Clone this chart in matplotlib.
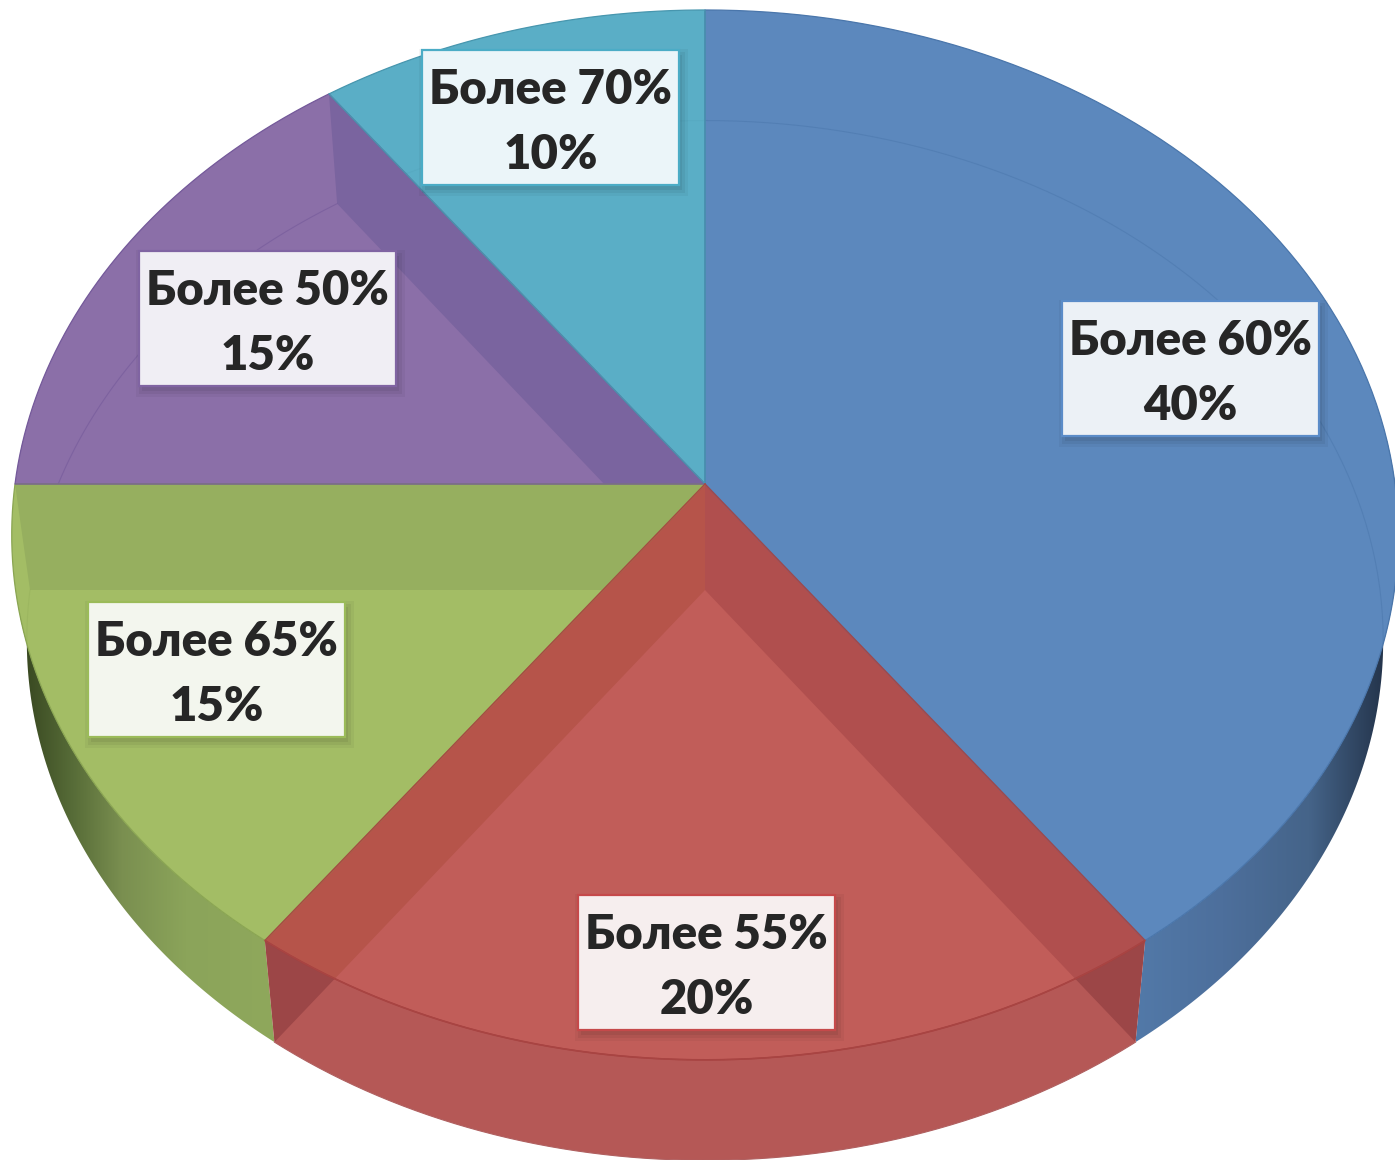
import matplotlib
matplotlib.use('Agg')
import matplotlib.pyplot as plt
import numpy as np
from matplotlib.patches import Polygon, Rectangle
from matplotlib.colors import LinearSegmentedColormap

# chart data
labels = ['Более 60%', 'Более 55%', 'Более 65%', 'Более 50%', 'Более 70%']
shares = [40, 20, 15, 15, 10]

# styles
face_colors = ['#5c88bd', '#c15d59', '#a3bd65', '#8b6fa8', '#5aaec6']
band_colors = ['#5c88bd', '#b04f4e', '#96af5f', '#7a649f', '#5aaec6']
line_colors = ['#4a76ab', '#a94543', '#8aa552', '#74599a', '#4796ae']
box_edges = ['#5b8cc8', '#c5494a', '#9bbb59', '#8064a2', '#4bacc6']
box_faces = ['#ecf1f6', '#f6eeee', '#f3f6ee', '#f0eef4', '#ebf5f9']
box_pos = [(1062, 301), (578, 895), (88, 602), (139, 251), (422, 50)]
BOX_W, BOX_H = 257, 135

# the disc is seen in perspective, so top and bottom rims are projected circles
TILT = 0.097
TOP = dict(cx=705, cy=484, a=690, b=520)
BOTTOM = dict(cx=705, cy=590, a=675, b=515)

plt.rcParams['font.family'] = ['Lato', 'Noto Sans', 'DejaVu Sans']


def project(disc, deg, r=1.0):
    t = np.radians(deg)
    u, v = r * np.sin(t), r * np.cos(t)
    d = 1 + TILT * v
    return np.column_stack([disc['cx'] + disc['a'] * u / d, disc['cy'] - disc['b'] * v / d])


def arc(disc, a1, a2, n=200):
    return project(disc, np.linspace(a1, a2, n))


def wedge(disc, a1, a2):
    return np.vstack([[disc['cx'], disc['cy']], arc(disc, a1, a2)])


def wall(a1, a2):
    return np.vstack([arc(TOP, a1, a2), arc(BOTTOM, a2, a1)])


def cut(deg):
    return np.vstack([[TOP['cx'], TOP['cy']], project(TOP, deg),
                      project(BOTTOM, deg), [BOTTOM['cx'], BOTTOM['cy']]])


def clipper(pts):
    return Polygon(pts, closed=True, transform=ax.transData)


def gradient_wall(pts, x0, x1, colors):
    cmap = LinearSegmentedColormap.from_list('w', colors)
    im = ax.imshow(np.linspace(0, 1, 256).reshape(1, -1), cmap=cmap, aspect='auto',
                   extent=(x0, x1, 1160, 0), zorder=1)
    im.set_clip_path(clipper(pts))


fig = plt.figure(figsize=(13.95, 11.6), dpi=100)
ax = fig.add_axes([0, 0, 1, 1])

edges = np.concatenate([[0], np.cumsum(shares) * 3.6])

# outer walls
gradient_wall(wall(85, edges[1]), 1136, 1396,
              ['#5279a8', '#4d6f9c', '#456489', '#1f2d42'])
gradient_wall(wall(edges[2], 275), 275, 20,
              [(0, '#8fa85c'), (0.35, '#8ba45a'), (0.6, '#7a8f50'), (0.8, '#566b37'), (1, '#36451f')])

red_wall = wall(edges[1], edges[2])
ax.add_patch(Polygon(red_wall, closed=True, fc='#b55856', ec='none', zorder=2))
for deg in edges[1:3]:
    ax.add_patch(Polygon(cut(deg), closed=True, fc='#9c4647', ec='none', zorder=3,
                         clip_path=clipper(red_wall)))
ax.plot(*wall(edges[1], edges[2])[200:].T, color='#b06060', lw=0.8, zorder=3)

# top faces, with the cut walls showing through them
for i in range(len(shares)):
    a1, a2 = edges[i], edges[i + 1]
    top = wedge(TOP, a1, a2)
    ax.add_patch(Polygon(top, closed=True, fc=face_colors[i], ec='none', zorder=4))
    for deg in (a1, a2):
        color = '#b6544a' if i == 1 and deg == a2 else band_colors[i]
        ax.add_patch(Polygon(cut(deg), closed=True, fc=color, ec='none', zorder=5,
                             clip_path=clipper(top)))

# faint rim of the bottom disc seen through the top, only inside its own slice
rim_alpha = [0.5, 0, 0.25, 0.6, 0.15]
for i in [0, 2, 3, 4]:
    a1, a2 = edges[i], edges[i + 1]
    rim, = ax.plot(*arc(BOTTOM, a1, a2).T, color=line_colors[i], lw=0.8,
                   alpha=rim_alpha[i], zorder=6)
    rim.set_clip_path(clipper(wedge(TOP, a1, a2)))
ax.plot(*arc(TOP, edges[1], edges[2]).T, color='#a5403f', lw=1.2, zorder=6)

# red last so that its edges sit on top of its neighbours
for i in [0, 2, 3, 4, 1]:
    ax.plot(*np.vstack([wedge(TOP, edges[i], edges[i + 1]), [TOP['cx'], TOP['cy']]]).T,
            color=line_colors[i], lw=0.9, zorder=7)

# labels
for i, (x, y) in enumerate(box_pos):
    for grow, alpha in [(6, 0.04), (3, 0.05), (0, 0.06)]:
        ax.add_patch(Rectangle((x + 3 - grow, y + 5 - grow), BOX_W + 2 * grow, BOX_H + 2 * grow,
                               fc='black', ec='none', alpha=alpha, zorder=8))
    ax.add_patch(Rectangle((x, y), BOX_W, BOX_H, fc=box_faces[i], ec=box_edges[i],
                           lw=1.6, zorder=9))
    ax.text(x + BOX_W / 2, y + 40, labels[i], ha='center', va='center', fontsize=34,
            fontweight='heavy', color='#262626', zorder=10)
    ax.text(x + BOX_W / 2, y + 105, f'{shares[i]}%', ha='center', va='center', fontsize=34,
            fontweight='heavy', color='#262626', zorder=10)

ax.set_xlim(0, 1395)
ax.set_ylim(1160, 0)
ax.axis('off')
fig.savefig('out.png', dpi=100)
plt.close(fig)
